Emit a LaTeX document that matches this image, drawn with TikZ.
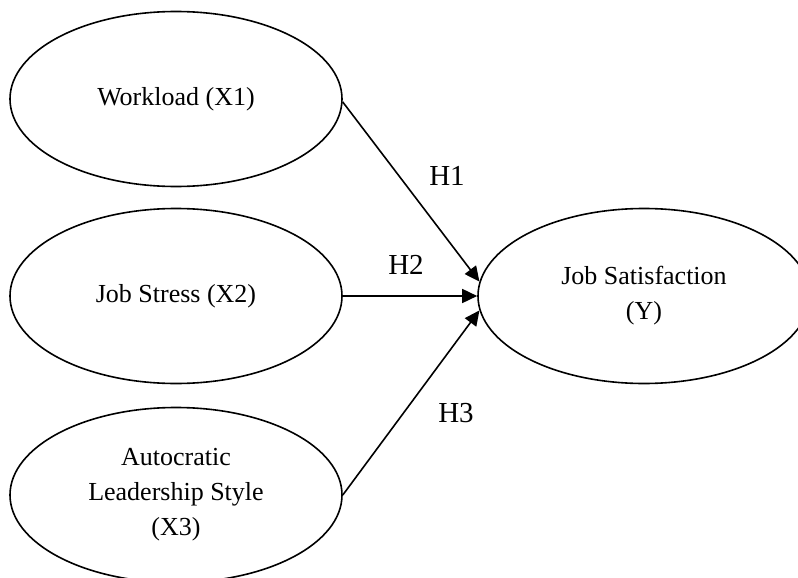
\documentclass[tikz,border=0pt]{standalone}
\usepackage{fontspec}
\setmainfont{Liberation Serif}
\usetikzlibrary{arrows.meta,shapes.geometric}
\tikzset{
  construct/.style={draw,thick,ellipse,inner sep=0pt,minimum width=166pt,minimum height=87.5pt,
    align=center,font=\fontsize{13}{17.5}\selectfont},
  hyparrow/.style={thick,-{Triangle[length=7.5pt,width=7pt]}},
  hyplabel/.style={font=\fontsize{14.5}{17}\selectfont}
}
\begin{document}
\begin{tikzpicture}[x=0.5pt,y=-0.5pt]
    \useasboundingbox (0,0) rectangle (798,578);
    \clip (0,0) rectangle (798,578);
    \node[construct] (work) at (176,99) {Workload (X1)};
    \node[construct] (stress) at (176,296) {Job Stress (X2)};
    \node[construct] (auto) at (176,495) {Autocratic\\Leadership Style\\(X3)};
    \node[construct] (sat) at (644,296) {Job Satisfaction\\(Y)};

    \draw[hyparrow] (work.-1.5) -- (sat.175);
    \draw[hyparrow] (stress.east) -- (sat.west);
    \draw[hyparrow] (auto.east) -- (sat.185);

    \node[hyplabel] (h1) at (447,176) {H1};
    \node[hyplabel] (h2) at (406,265) {H2};
    \node[hyplabel] (h3) at (456,413) {H3};
\end{tikzpicture}
\end{document}
